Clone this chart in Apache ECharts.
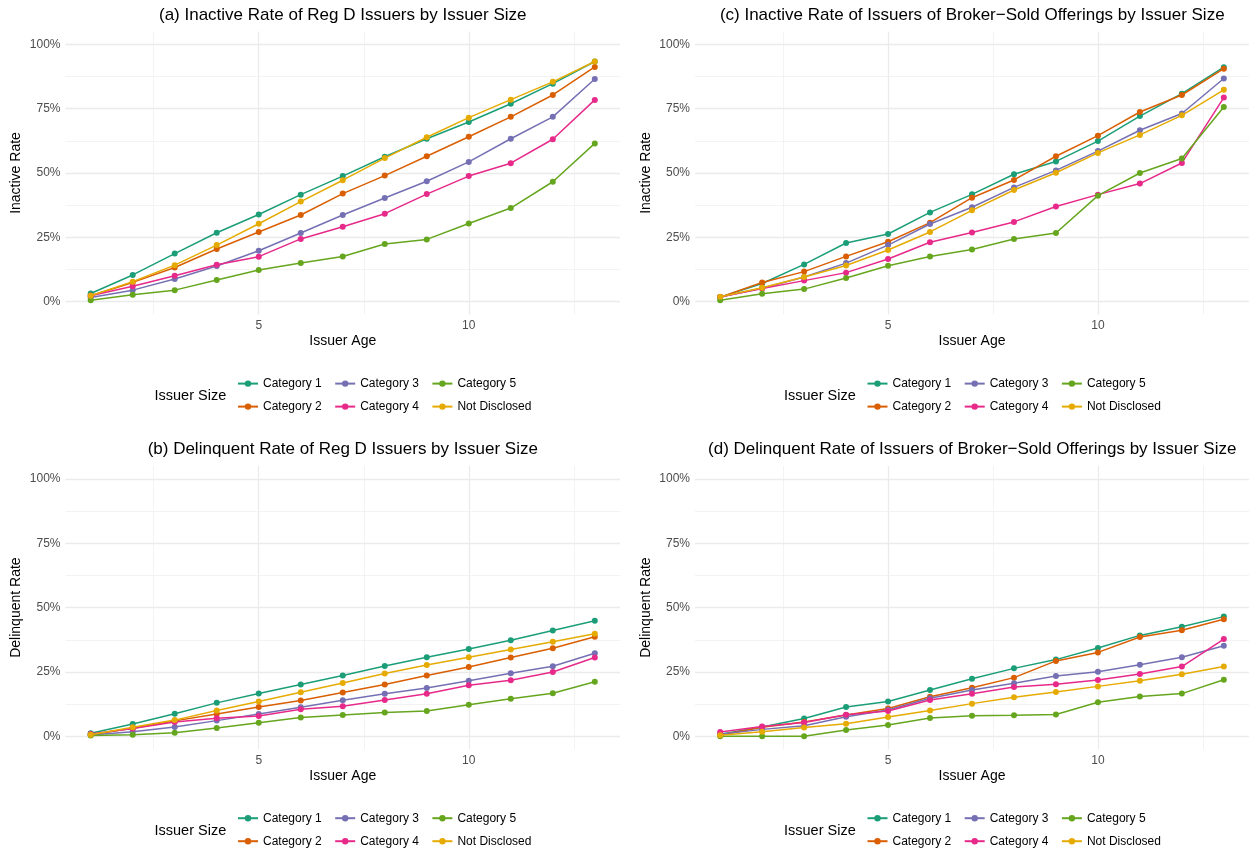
<!DOCTYPE html>
<html lang="en">
<head>
    <meta charset="UTF-8">
    <title>Issuer size rates</title>
    <style>
        html, body { margin: 0; padding: 0; background: #fff; }
        #main { width: 1249px; height: 850px; }
    </style>
</head>
<body>
<div id="main"></div>
<script src="https://cdn.jsdelivr.net/npm/echarts@6/dist/echarts.min.js"></script>
<script>
    // issuer age on the x axis
    const ages = [1, 2, 3, 4, 5, 6, 7, 8, 9, 10, 11, 12, 13];
    const sizes = ['Category 1', 'Category 2', 'Category 3', 'Category 4', 'Category 5', 'Not Disclosed'];
    const xTicks = [5, 10];
    const yTicks = [0, 25, 50, 75, 100];

    // (a) inactive rate, Reg D issuers (%)
    const aCat1 = [3.2, 10.4, 18.7, 26.8, 33.9, 41.6, 48.8, 56.3, 63.3, 69.8, 76.9, 84.7, 93.3];
    const aCat2 = [2.3, 7.5, 13.3, 20.5, 27.1, 33.7, 42.0, 49.0, 56.5, 64.1, 71.8, 80.3, 91.2];
    const aCat3 = [1.6, 4.5, 8.8, 13.9, 19.8, 26.7, 33.7, 40.3, 46.8, 54.3, 63.3, 71.8, 86.5];
    const aCat4 = [2.3, 6.0, 10.1, 14.4, 17.5, 24.4, 29.1, 34.2, 41.8, 48.8, 53.8, 63.1, 78.4];
    const aCat5 = [0.6, 2.7, 4.5, 8.4, 12.3, 15.0, 17.6, 22.4, 24.2, 30.4, 36.4, 46.6, 61.5];
    const aND   = [2.3, 7.8, 14.2, 22.0, 30.3, 38.9, 47.2, 55.8, 63.9, 71.5, 78.5, 85.4, 93.3];

    // (b) delinquent rate, Reg D issuers (%)
    const bCat1 = [1.2, 4.8, 8.8, 13.0, 16.6, 20.1, 23.6, 27.3, 30.7, 33.9, 37.3, 41.1, 44.9];
    const bCat2 = [0.6, 3.1, 6.0, 8.7, 11.4, 13.9, 17.0, 20.1, 23.6, 26.9, 30.6, 34.2, 38.7];
    const bCat3 = [0.5, 1.8, 3.6, 6.1, 8.7, 11.3, 14.0, 16.5, 18.8, 21.6, 24.5, 27.2, 32.3];
    const bCat4 = [0.9, 3.0, 5.6, 7.0, 7.9, 10.5, 11.7, 14.1, 16.5, 19.8, 21.8, 25.0, 30.6];
    const bCat5 = [0.3, 0.6, 1.4, 3.2, 5.3, 7.3, 8.3, 9.3, 9.8, 12.3, 14.6, 16.7, 21.2];
    const bND   = [0.6, 3.5, 6.3, 10.0, 13.5, 17.1, 20.7, 24.4, 27.7, 30.7, 33.7, 36.7, 39.8];

    // (c) inactive rate, broker-sold offerings (%)
    const cCat1 = [1.8, 7.1, 14.5, 22.8, 26.3, 34.7, 41.7, 49.5, 54.5, 62.4, 72.1, 80.8, 91.1];
    const cCat2 = [1.8, 7.5, 11.7, 17.6, 23.3, 30.7, 40.4, 47.3, 56.5, 64.5, 73.7, 80.3, 90.5];
    const cCat3 = [1.8, 5.2, 9.6, 15.0, 22.0, 30.2, 36.7, 44.4, 51.0, 58.5, 66.6, 73.1, 86.7];
    const cCat4 = [1.8, 5.1, 8.2, 11.3, 16.6, 23.1, 26.9, 31.0, 37.0, 41.6, 45.9, 53.9, 79.3];
    const cCat5 = [0.6, 3.1, 4.9, 9.2, 14.0, 17.6, 20.3, 24.4, 26.7, 41.2, 50.0, 55.6, 75.6];
    const cND   = [1.9, 5.4, 9.6, 14.1, 20.1, 27.1, 35.5, 43.4, 50.1, 57.8, 64.8, 72.4, 82.3];

    // (d) delinquent rate, broker-sold offerings (%)
    const dCat1 = [0.8, 3.6, 6.9, 11.4, 13.5, 18.0, 22.4, 26.4, 29.8, 34.3, 39.2, 42.6, 46.5];
    const dCat2 = [0.5, 3.5, 5.6, 8.3, 10.8, 15.4, 18.9, 22.8, 29.3, 32.6, 38.6, 41.2, 45.5];
    const dCat3 = [0.8, 2.7, 4.1, 7.6, 10.2, 14.8, 18.0, 20.6, 23.4, 25.1, 27.8, 30.7, 35.2];
    const dCat4 = [1.7, 3.8, 5.4, 8.4, 9.8, 14.1, 16.5, 19.2, 20.2, 21.9, 24.2, 27.1, 37.8];
    const dCat5 = [0.0, 0.0, 0.0, 2.5, 4.4, 7.1, 8.0, 8.2, 8.5, 13.2, 15.5, 16.6, 22.0];
    const dND   = [0.4, 1.8, 3.4, 4.9, 7.5, 10.0, 12.7, 15.2, 17.2, 19.4, 21.6, 24.1, 27.1];

    const colors = ['#1B9E77', '#D95F02', '#7570B3', '#E7298A', '#66A61E', '#E6AB02'];
    const font = '"Liberation Sans", Arial, sans-serif';

    const panels = [
        { title: '(a) Inactive Rate of Reg D Issuers by Issuer Size', yName: 'Inactive Rate',
          data: [aCat1, aCat2, aCat3, aCat4, aCat5, aND], left: 65.5, top: 31.4 },
        { title: '(c) Inactive Rate of Issuers of Broker\u2212Sold Offerings by Issuer Size', yName: 'Inactive Rate',
          data: [cCat1, cCat2, cCat3, cCat4, cCat5, cND], left: 695, top: 31.4 },
        { title: '(b) Delinquent Rate of Reg D Issuers by Issuer Size', yName: 'Delinquent Rate',
          data: [bCat1, bCat2, bCat3, bCat4, bCat5, bND], left: 65.5, top: 466 },
        { title: '(d) Delinquent Rate of Issuers of Broker\u2212Sold Offerings by Issuer Size', yName: 'Delinquent Rate',
          data: [dCat1, dCat2, dCat3, dCat4, dCat5, dND], left: 695, top: 466 }
    ];
    const W = 554.5, H = 283.2;

    const grid = [], xAxis = [], yAxis = [], series = [], legend = [], graphic = [];

    panels.forEach((p, i) => {
        grid.push({ left: p.left, top: p.top, width: W, height: H, containLabel: false });
        xAxis.push({
            type: 'value', gridIndex: i, min: 0.4, max: 13.6,
            name: 'Issuer Age', nameLocation: 'middle', nameGap: 20,
            nameTextStyle: { fontFamily: font, fontSize: 14, color: '#000' },
            axisLine: { show: false }, axisTick: { show: false }, splitLine: { show: false },
            axisLabel: { customValues: xTicks, margin: 5, fontFamily: font, fontSize: 12, color: '#4D4D4D' }
        });
        yAxis.push({
            type: 'value', gridIndex: i, min: -5, max: 105,
            name: p.yName, nameLocation: 'middle', nameGap: 42, nameRotate: 90,
            nameTextStyle: { fontFamily: font, fontSize: 14, color: '#000' },
            axisLine: { show: false }, axisTick: { show: false }, splitLine: { show: false },
            axisLabel: { customValues: yTicks, margin: 5, fontFamily: font, fontSize: 12, color: '#4D4D4D',
                         formatter: v => v + '%' }
        });

        // panel grid lines, drawn through the axes with a markLine on a helper series
        const major = { color: '#EBEBEB', width: 1.3, type: 'solid' };
        const minor = { color: '#F0F0F0', width: 0.8, type: 'solid' };
        const lines = [];
        [2.5, 7.5, 12.5].forEach(v => lines.push({ xAxis: v, lineStyle: minor }));
        xTicks.forEach(v => lines.push({ xAxis: v, lineStyle: major }));
        [12.5, 37.5, 62.5, 87.5].forEach(v => lines.push({ yAxis: v, lineStyle: minor }));
        yTicks.forEach(v => lines.push({ yAxis: v, lineStyle: major }));
        series.push({
            type: 'line', name: 'grid' + i, xAxisIndex: i, yAxisIndex: i,
            data: [], silent: true,
            markLine: { silent: true, symbol: 'none', label: { show: false }, z: 1,
                        emphasis: { disabled: true }, animation: false, data: lines }
        });

        sizes.forEach((s, k) => {
            series.push({
                type: 'line', name: s, xAxisIndex: i, yAxisIndex: i,
                data: ages.map((a, j) => [a, p.data[k][j]]),
                symbol: 'circle', symbolSize: 6, showSymbol: true,
                itemStyle: { color: colors[k] },
                lineStyle: { color: colors[k], width: 1.5 },
                emphasis: { disabled: true }, animation: false, z: 2 + k
            });
        });

        // panel title
        graphic.push({
            type: 'text', left: p.left + W / 2, top: p.top - 25,
            style: { text: p.title, fontFamily: font, fontSize: 17, fill: '#000', textAlign: 'center' }
        });

        // legend below the panel
        const ly = p.top + H + 70;
        graphic.push({
            type: 'text', left: p.left + 89, top: ly + 4,
            style: { text: 'Issuer Size', fontFamily: font, fontSize: 14.5, fill: '#000' }
        });
        [[sizes[0], sizes[2], sizes[4]], [sizes[1], sizes[3], sizes[5]]].forEach((row, r) => {
            legend.push({
                data: row, left: p.left + 171.5, top: ly - 7 + r * 23, orient: 'horizontal',
                padding: 0, itemGap: 12.5, itemWidth: 20, itemHeight: 8, selectedMode: false,
                textStyle: { fontFamily: font, fontSize: 12, color: '#000' }
            });
        });
    });

    // graphic text uses left as the text box edge; center the titles explicitly
    graphic.forEach(g => { if (g.style.textAlign === 'center') { g.x = g.left; delete g.left; g.y = g.top; delete g.top; } });

    const myChart = echarts.init(document.getElementById('main'), null, { renderer: 'canvas' });
    myChart.setOption({
        backgroundColor: '#fff',
        animation: false,
        grid: grid,
        xAxis: xAxis,
        yAxis: yAxis,
        legend: legend,
        series: series,
        graphic: graphic
    });
</script>
</body>
</html>
